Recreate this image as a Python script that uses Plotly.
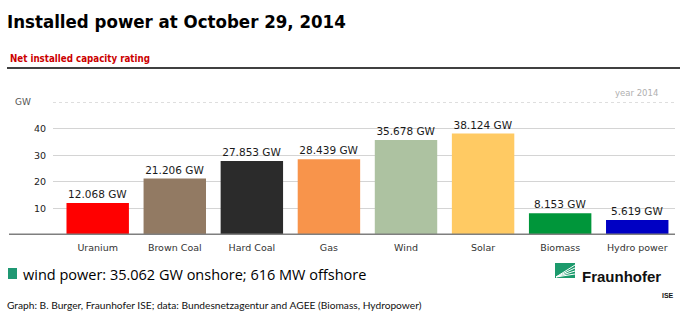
import plotly.graph_objects as go

# Net installed capacity in Germany, October 29, 2014 (GW)
categories = ["Uranium", "Brown Coal", "Hard Coal", "Gas", "Wind", "Solar", "Biomass", "Hydro power"]
capacity_gw = [12.068, 21.206, 27.853, 28.439, 35.678, 38.124, 8.153, 5.619]
bar_colors = ["#ff0000", "#927a63", "#2b2b2b", "#f8944b", "#adc2a1", "#ffca63", "#00963a", "#0000c4"]
tick_values = [10, 20, 30, 40]

W, H = 680, 324
ML, MR, MT, MB = 53, 5, 102, 89
PW = W - ML - MR
PH = H - MT - MB


def px(x):
    return (x - ML) / PW


def py(y):
    return (H - MB - y) / PH


fig = go.Figure(
    go.Bar(
        x=categories,
        y=capacity_gw,
        marker=dict(color=bar_colors, line=dict(width=0)),
        texttemplate="%{y:.3f} GW",
        textposition="outside",
        textfont=dict(family="DejaVu Sans", size=10.5, color="#1a1a1a"),
        cliponaxis=False,
        hoverinfo="skip",
    )
)

fig.update_layout(
    width=W,
    height=H,
    margin=dict(l=ML, r=MR, t=MT, b=MB),
    paper_bgcolor="white",
    plot_bgcolor="white",
    showlegend=False,
    bargap=0.19,
    xaxis=dict(
        range=[-0.58, 7.49],
        showgrid=False,
        showline=False,
        zeroline=False,
        ticks="",
        ticklabelstandoff=5,
        tickfont=dict(family="DejaVu Sans", size=9.5, color="#333333"),
        fixedrange=True,
    ),
    yaxis=dict(
        range=[0, 50],
        tickvals=tick_values,
        showgrid=True,
        gridcolor="#d4d4d4",
        gridwidth=1,
        zeroline=False,
        showline=False,
        ticks="",
        ticklabelstandoff=6,
        tickfont=dict(family="DejaVu Sans", size=9.5, color="#222222"),
        fixedrange=True,
    ),
)

shapes = [
    # dotted top rule at 50 GW
    dict(type="line", xref="paper", yref="y", x0=0, x1=1, y0=50, y1=50,
         line=dict(color="#bdbdbd", width=1, dash="dot")),
    # heavy baseline
    dict(type="line", xref="paper", yref="y", x0=px(9), x1=1, y0=0, y1=0,
         line=dict(color="#7f7f7f", width=3)),
    # rule under the subtitle
    dict(type="line", xref="paper", yref="paper", x0=px(7), x1=px(680), y0=py(68), y1=py(68),
         line=dict(color="#000000", width=1.5)),
    # bullet square
    dict(type="rect", xref="paper", yref="paper", x0=px(8), x1=px(17), y0=py(279), y1=py(268),
         fillcolor="#1f9873", line=dict(width=0)),
    # logo square
    dict(type="rect", xref="paper", yref="paper", x0=px(555), x1=px(575), y0=py(278), y1=py(263),
         fillcolor="#1c9a6c", line=dict(width=0)),
]
# white rays in the logo
for yy in [265, 268, 271, 274]:
    shapes.append(dict(type="line", xref="paper", yref="paper",
                       x0=px(556), y0=py(277), x1=px(575), y1=py(yy),
                       line=dict(color="white", width=1)))
fig.update_layout(shapes=shapes)

annotations = [
    dict(text="<b>Installed power at October 29, 2014</b>", x=px(5), y=py(21),
         font=dict(family="DejaVu Sans Condensed, Roboto", size=18.5, color="#000000")),
    dict(text="<b>Net installed capacity rating</b>", x=px(8), y=py(58),
         font=dict(family="DejaVu Sans Condensed, Roboto", size=9.7, color="#cc0000")),
    dict(text="GW", x=px(13), y=py(102),
         font=dict(family="DejaVu Sans", size=9, color="#555555")),
    dict(text="year 2014", x=px(613), y=py(93),
         font=dict(family="DejaVu Sans", size=8.5, color="#b0b0b0")),
    dict(text="wind power: 35.062 GW onshore; 616 MW offshore", x=px(21), y=py(274),
         font=dict(family="Open Sans", size=14.5, color="#000000")),
    dict(text="Graph: B. Burger, Fraunhofer ISE; data: Bundesnetzagentur and AGEE (Biomass, Hydropower)",
         x=px(5), y=py(305),
         font=dict(family="Lato", size=10.2, color="#111111")),
    dict(text="<b>Fraunhofer</b>", x=px(580), y=py(276),
         font=dict(family="Liberation Sans", size=15, color="#111111")),
    dict(text="<b>ISE</b>", x=px(660), y=py(295),
         font=dict(family="Liberation Sans", size=7, color="#111111")),
]
for a in annotations:
    a.update(xref="paper", yref="paper", xanchor="left", yanchor="middle", showarrow=False)
fig.update_layout(annotations=annotations)

fig.write_html("out.html")
